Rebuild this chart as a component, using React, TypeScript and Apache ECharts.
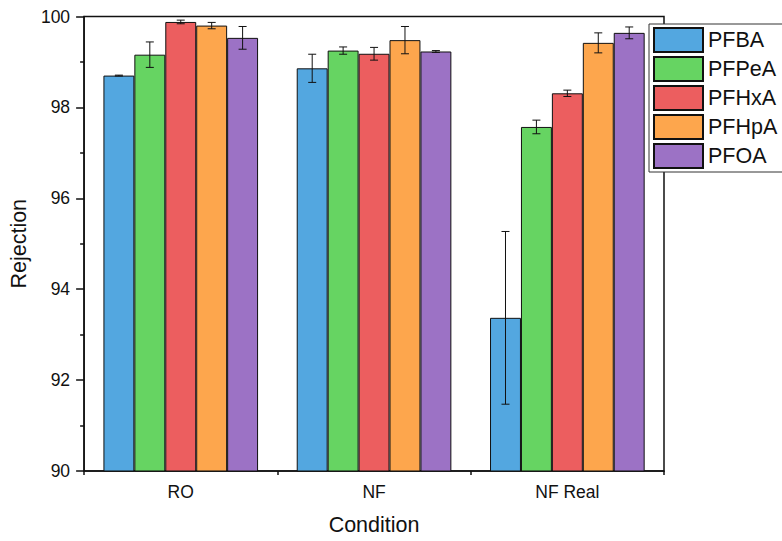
import React, { useEffect, useRef } from "react";
import * as echarts from "echarts";

const categories = ["RO", "NF", "NF Real"];
const seriesNames = ["PFBA", "PFPeA", "PFHxA", "PFHpA", "PFOA"];
const colors = ["#53a7e0", "#66d462", "#ec5e5f", "#fda64d", "#9c72c5"];

const PFBA = [98.7, 98.86, 93.37];
const PFPeA = [99.16, 99.25, 97.57];
const PFHxA = [99.88, 99.18, 98.31];
const PFHpA = [99.8, 99.48, 99.42];
const PFOA = [99.53, 99.23, 99.64];

const PFBA_err = [0.01, 0.31, 1.9];
const PFPeA_err = [0.28, 0.08, 0.15];
const PFHxA_err = [0.04, 0.14, 0.07];
const PFHpA_err = [0.07, 0.3, 0.22];
const PFOA_err = [0.25, 0.02, 0.13];

const yTicks = [90, 92, 94, 96, 98, 100];

const values = [PFBA, PFPeA, PFHxA, PFHpA, PFOA];
const errors = [PFBA_err, PFPeA_err, PFHxA_err, PFHpA_err, PFOA_err];

const FONT = "Liberation Sans, Arial, sans-serif";
const TXT = "#111";

export default function App() {
  const ref = useRef<HTMLDivElement>(null);
  useEffect(() => {
    if (!ref.current) return;
    const chart = echarts.init(ref.current, null, { renderer: "svg" });
    const nSeries = seriesNames.length;
    const barSeries = seriesNames.map((name, i) => ({
      name,
      type: "bar",
      data: values[i],
      barGap: "0%",
      barCategoryGap: "20%",
      itemStyle: { color: colors[i], borderColor: "#111", borderWidth: 1 },
      z: 2,
    }));
    const errSeries = seriesNames.map((name, i) => ({
      name: name + " error",
      type: "custom",
      z: 5,
      encode: { x: 0, y: [1, 2] },
      data: values[i].map((v, k) => [k, v - errors[i][k], v + errors[i][k]]),
      renderItem: (params: any, api: any) => {
        const cat = api.value(0);
        const lo = api.coord([cat, api.value(1)]);
        const hi = api.coord([cat, api.value(2)]);
        const band = api.size([1, 0])[0];
        const bw = (band * 0.8) / nSeries;
        const x = lo[0] + (i - (nSeries - 1) / 2) * bw;
        const cap = 4;
        const style = { stroke: "#111", lineWidth: 1 };
        return {
          type: "group",
          children: [
            { type: "line", shape: { x1: x, y1: lo[1], x2: x, y2: hi[1] }, style },
            { type: "line", shape: { x1: x - cap, y1: lo[1], x2: x + cap, y2: lo[1] }, style },
            { type: "line", shape: { x1: x - cap, y1: hi[1], x2: x + cap, y2: hi[1] }, style },
          ],
        };
      },
    }));
    chart.setOption({
      animation: false,
      textStyle: { fontFamily: FONT },
      grid: {
        left: 84,
        right: 118,
        top: 16.5,
        bottom: 68,
        show: true,
        borderColor: "#111",
        borderWidth: 1.5,
        backgroundColor: "transparent",
      },
      legend: {
        orient: "vertical",
        left: 649,
        top: 24,
        data: seriesNames,
        itemWidth: 49,
        itemHeight: 24,
        itemGap: 3,
        padding: [3, 12, 3, 4],
        borderColor: "#333",
        borderWidth: 1,
        backgroundColor: "#fff",
        icon: "rect",
        textStyle: { fontSize: 21.5, color: TXT, fontFamily: FONT },
        z: 10,
      },
      xAxis: [
        {
          type: "category",
          data: categories,
          position: "bottom",
          name: "Condition",
          nameLocation: "middle",
          nameGap: 43,
          nameTextStyle: { fontSize: 21.5, color: TXT, fontFamily: FONT },
          axisLine: { lineStyle: { color: "#111", width: 1.5 } },
          axisTick: { alignWithLabel: true, length: 7, lineStyle: { color: "#111", width: 1.5 } },
          axisLabel: { fontSize: 17.5, color: TXT, margin: 12, fontFamily: FONT },
        },
        {
          type: "category",
          data: categories,
          position: "bottom",
          gridIndex: 0,
          axisLine: { show: false },
          axisTick: { show: true, length: 4, lineStyle: { color: "#111", width: 1.5 } },
          axisLabel: { show: false },
        },
      ],
      yAxis: {
        type: "value",
        min: yTicks[0],
        max: yTicks[yTicks.length - 1],
        interval: 2,
        name: "Rejection",
        nameLocation: "middle",
        nameGap: 49,
        nameTextStyle: { fontSize: 21.5, color: TXT, fontFamily: FONT },
        axisLine: { show: true, lineStyle: { color: "#111", width: 1.5 } },
        axisTick: { show: true, length: 8, lineStyle: { color: "#111", width: 1.5 } },
        minorTick: { show: true, splitNumber: 2, length: 4, lineStyle: { color: "#111", width: 1.5 } },
        splitLine: { show: false },
        axisLabel: { fontSize: 17.5, color: TXT, margin: 14, fontFamily: FONT },
      },
      series: [...barSeries, ...errSeries],
    });
    return () => chart.dispose();
  }, []);
  return <div ref={ref} style={{ width: 782, height: 541, position: "absolute", left: 0, top: 0 }} />;
}
